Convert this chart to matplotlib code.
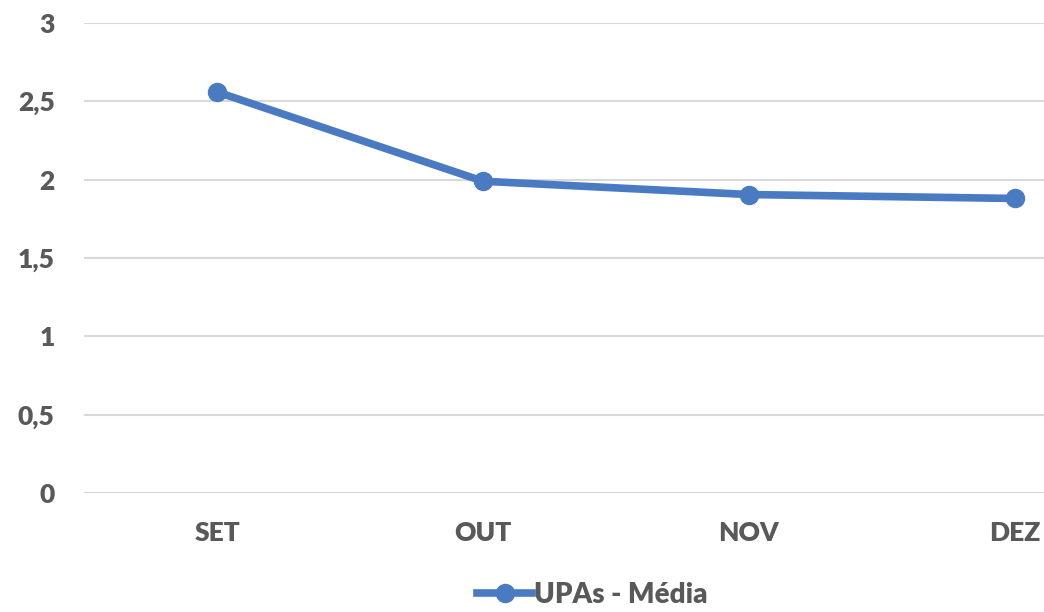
import matplotlib
matplotlib.use("Agg")
import matplotlib.pyplot as plt
from matplotlib.lines import Line2D

months = ["SET", "OUT", "NOV", "DEZ"]
values = [2.56, 1.99, 1.905, 1.88]
series_name = "UPAs - Média"
y_ticks = [0, 0.5, 1, 1.5, 2, 2.5, 3]
y_labels = ["0", "0,5", "1", "1,5", "2", "2,5", "3"]

plt.rcParams['font.family'] = ['Lato', 'DejaVu Sans']
W, H = 1044, 612
fig = plt.figure(figsize=(W/100, H/100), dpi=100)
left, bottom, top = 84, 493, 23
ax = fig.add_axes([left/W, (H-bottom)/H, 1064/W, (bottom-top)/H])
color = "#4a7bc2"
x = list(range(len(months)))
ax.plot(x, values, color=color, lw=5.5, marker='o', ms=13, solid_joinstyle='round')
ax.set_xlim(-0.5, 3.5)
ax.set_ylim(0, 3)
ax.set_yticks(y_ticks)
ax.set_yticklabels(y_labels)
ax.set_xticks(x)
ax.set_xticklabels(months)
ax.grid(axis='y', color='#d9d9d9', lw=1.5)
ax.set_axisbelow(True)
for s in ax.spines.values():
    s.set_visible(False)
ax.tick_params(length=0, labelsize=19, labelcolor='#595959')
ax.tick_params(axis='y', pad=21)
ax.tick_params(axis='x', pad=20)
for lab in ax.get_xticklabels() + ax.get_yticklabels():
    lab.set_fontweight('heavy')

handle = Line2D([], [], color=color, lw=5.5, marker='o', ms=13)
fig.legend([handle], [series_name], loc='center', bbox_to_anchor=(592/W, 1-595/H),
           frameon=False, prop={'size': 20, 'weight': 'heavy'}, labelcolor='#595959',
           handlelength=2.0, handletextpad=0.05)
fig.savefig("out.png", dpi=100)
